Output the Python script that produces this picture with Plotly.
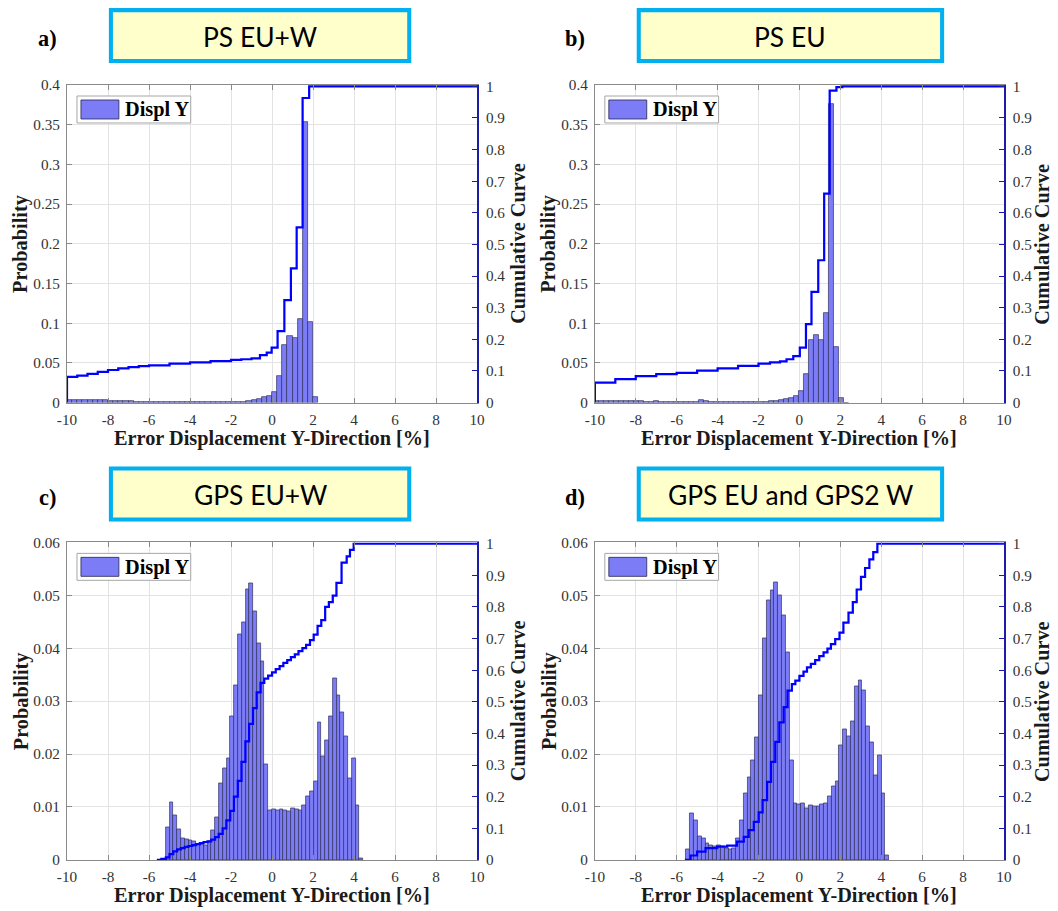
import numpy as np
import plotly.graph_objects as go

W, H = 1058, 911
# the page is shown with an 8 px body margin and then fitted back into W x H;
# layout positions below are given in final picture pixels and mapped through this
PAGE_PAD = 8
SX = (W + 2 * PAGE_PAD) / W
SY = (H + 2 * PAGE_PAD) / H

# ---------------- data ----------------
x_ticks = [-10, -8, -6, -4, -2, 0, 2, 4, 6, 8, 10]
cum_ticks = [0, 0.1, 0.2, 0.3, 0.4, 0.5, 0.6, 0.7, 0.8, 0.9, 1]
cum_tick_text = ["0", "0.1", "0.2", "0.3", "0.4", "0.5", "0.6", "0.7", "0.8", "0.9", "1"]
prob_ticks_ps = [0, 0.05, 0.1, 0.15, 0.2, 0.25, 0.3, 0.35, 0.4]
prob_tick_text_ps = ["0", "0.05", "0.1", "0.15", "0.2", "0.25", "0.3", "0.35", "0.4"]
prob_ticks_gps = [0, 0.01, 0.02, 0.03, 0.04, 0.05, 0.06]
prob_tick_text_gps = ["0", "0.01", "0.02", "0.03", "0.04", "0.05", "0.06"]

panel_titles = ["PS EU+W", "PS EU", "GPS EU+W", "GPS EU and GPS2 W"]
panel_letters = ["a)", "b)", "c)", "d)"]

# histogram bins: first edge and bin width per panel
bin_start = [-10.0, -10.044, -5.18, -5.53]
bin_width = [0.25, 0.244, 0.185, 0.187]

prob_ps_euw = [
    0.0030, 0.0029, 0.0028, 0.0028, 0.0027, 0.0027, 0.0026, 0.0026, 0.0025, 0.0025, 0.0024, 0.0024, 0.0022,
    0.0012, 0.0011, 0.0011, 0.0010, 0.0010, 0.0010, 0.0009, 0.0009, 0.0009, 0.0009, 0.0008, 0.0008, 0.0008,
    0.0008, 0.0008, 0.0008, 0.0008, 0.0009, 0.0009, 0.0010, 0.0011, 0.0013, 0.0016,
    0.0030, 0.0045, 0.0067, 0.0088, 0.0130, 0.0330, 0.0726, 0.0840, 0.0810, 0.1050, 0.3540, 0.1020, 0.0067]

prob_ps_eu = [
    0.0016, 0.0015, 0.0015, 0.0016, 0.0018, 0.0015, 0.0014, 0.0014, 0.0015, 0.0014, 0.0013, 0.0013, 0.0014,
    0.0013, 0.0012, 0.0012, 0.0013, 0.0012, 0.0012, 0.0011, 0.0012, 0.0030, 0.0014, 0.0012, 0.0011, 0.0011,
    0.0010, 0.0010, 0.0011, 0.0010, 0.0010, 0.0010, 0.0011, 0.0012, 0.0013, 0.0015,
    0.0020, 0.0030, 0.0040, 0.0059, 0.0088, 0.0151, 0.0360, 0.0788, 0.0855, 0.0792, 0.1124, 0.3765, 0.0696,
    0.0055, 0.0]

prob_gps_euw = [
    0.0061, 0.0108, 0.0084, 0.0057, 0.0041, 0.0038, 0.0037, 0.0035, 0.0030, 0.0030, 0.0028, 0.0035, 0.0055,
    0.0080, 0.0145, 0.0173, 0.0192, 0.0271, 0.0330, 0.0426, 0.0449, 0.0511, 0.0522, 0.0469, 0.0410, 0.0376,
    0.0180, 0.0094, 0.0096, 0.0094, 0.0096, 0.0094, 0.0091, 0.0098, 0.0096, 0.0093, 0.0104, 0.0120, 0.0129,
    0.0148, 0.0260, 0.0195, 0.0225, 0.0271, 0.0343, 0.0310, 0.0279, 0.0234, 0.0155, 0.0192, 0.0103, 0.0003]

prob_gps_eu_gps2w = [
    0.0019, 0.0088, 0.0074, 0.0045, 0.0041, 0.0031, 0.0028, 0.0026, 0.0027, 0.0025, 0.0022, 0.0019, 0.0022,
    0.0041, 0.0074, 0.0126, 0.0156, 0.0189, 0.0232, 0.0310, 0.0419, 0.0491, 0.0510, 0.0524, 0.0500, 0.0462,
    0.0392, 0.0189, 0.0107, 0.0105, 0.0107, 0.0098, 0.0104, 0.0101, 0.0101, 0.0105, 0.0107, 0.0120, 0.0139,
    0.0148, 0.0217, 0.0246, 0.0233, 0.0261, 0.0327, 0.0340, 0.0321, 0.0252, 0.0222, 0.0159, 0.0197, 0.0126,
    0.0008]

# cumulative curves (step positions and levels)
cum_ps_euw_x = [-10, -10, -9.5, -9, -8.5, -8, -7.5, -7, -6.5, -6, -5, -4, -3, -2, -1.5, -1,
                -0.59, -0.26, -0.02, 0.27, 0.6, 0.92, 1.2, 1.49, 1.81, 10]
cum_ps_euw_y = [0, 0.081, 0.085, 0.091, 0.097, 0.103, 0.108, 0.112, 0.115, 0.118, 0.123, 0.127, 0.131,
                0.135, 0.137, 0.140, 0.150, 0.158, 0.174, 0.226, 0.324, 0.424, 0.554, 0.963, 1.0, 1.0]

cum_ps_eu_x = [-10, -10, -9, -8, -7, -6, -5, -4, -3, -2, -1.44, -0.95, -0.63, -0.3, 0.02, 0.32,
               0.59, 0.92, 1.21, 1.48, 1.81, 2.1, 10]
cum_ps_eu_y = [0, 0.063, 0.074, 0.084, 0.090, 0.094, 0.101, 0.108, 0.116, 0.123, 0.127, 0.130, 0.137,
               0.147, 0.174, 0.248, 0.350, 0.450, 0.661, 0.986, 0.997, 1.0, 1.0]

cum_gps_euw_x = [-5.62, -5.4, -5.18, -5.0, -4.82, -4.63, -4.45, -4.26, -4.08, -3.89, -3.71, -3.52, -3.34,
                 -3.15, -2.97, -2.78, -2.6, -2.41, -2.23, -2.04, -1.86, -1.67, -1.49, -1.3, -1.12, -0.93,
                 -0.75, -0.56, -0.38, -0.19, 0.0, 0.18, 0.37, 0.55, 0.74, 0.92, 1.11, 1.29, 1.48, 1.66,
                 1.85, 2.03, 2.22, 2.4, 2.59, 2.77, 2.96, 3.14, 3.39, 3.64, 3.8, 3.98, 10]
cum_gps_euw_y = [0, 0.003, 0.008, 0.018, 0.027, 0.033, 0.037, 0.041, 0.044, 0.047, 0.050, 0.053, 0.056,
                 0.059, 0.064, 0.072, 0.082, 0.100, 0.125, 0.155, 0.200, 0.250, 0.310, 0.375, 0.430, 0.480,
                 0.530, 0.560, 0.573, 0.583, 0.593, 0.603, 0.613, 0.623, 0.632, 0.641, 0.650, 0.660, 0.670,
                 0.680, 0.695, 0.712, 0.740, 0.758, 0.800, 0.815, 0.836, 0.876, 0.940, 0.960, 0.980, 1.0, 1.0]

cum_gps_eu_gps2w_x = [-5.6, -5.32, -5.0, -4.59, -4.02, -3.53, -3.05, -2.72, -2.48, -2.23, -1.99, -1.8,
                      -1.58, -1.39, -1.18, -0.98, -0.77, -0.58, -0.37, -0.2, 0.0, 0.2, 0.37, 0.56, 0.77,
                      0.97, 1.18, 1.37, 1.54, 1.75, 1.96, 2.15, 2.4, 2.61, 2.8, 3.01, 3.21, 3.42, 3.61,
                      3.81, 10]
cum_gps_eu_gps2w_y = [0, 0.014, 0.026, 0.037, 0.042, 0.045, 0.058, 0.073, 0.094, 0.120, 0.150, 0.189,
                      0.247, 0.310, 0.373, 0.435, 0.483, 0.535, 0.556, 0.567, 0.582, 0.595, 0.609, 0.620,
                      0.632, 0.644, 0.656, 0.668, 0.682, 0.698, 0.719, 0.750, 0.782, 0.815, 0.855, 0.895,
                      0.923, 0.950, 0.973, 1.0, 1.0]

probs = [prob_ps_euw, prob_ps_eu, prob_gps_euw, prob_gps_eu_gps2w]
cums = [(cum_ps_euw_x, cum_ps_euw_y), (cum_ps_eu_x, cum_ps_eu_y),
        (cum_gps_euw_x, cum_gps_euw_y), (cum_gps_eu_gps2w_x, cum_gps_eu_gps2w_y)]
prob_axes = [(0.4, prob_ticks_ps, prob_tick_text_ps), (0.4, prob_ticks_ps, prob_tick_text_ps),
             (0.06, prob_ticks_gps, prob_tick_text_gps), (0.06, prob_ticks_gps, prob_tick_text_gps)]

# ---------------- layout geometry (picture pixels) ----------------
plot_boxes = [(65, 476, 84, 402), (594, 1004, 84, 402), (65, 476, 542, 860), (594, 1004, 542, 860)]
title_boxes = [(107, 410, 7, 62), (636, 944, 7, 62), (107, 410, 466, 521), (636, 944, 466, 521)]
letter_pos = [(45, 37), (574, 37), (45, 497), (574, 497)]
right_label_dx = [41, 38, 41, 38]

SERIF = "Liberation Serif"
AX_COL = "#8a8a8a"
RIGHT_COL = "#1c1ca8"
GRID_COL = "#e3e3e3"


def fs(size):
    # font / stroke size compensated for the page fit
    return size * SX


TICK_FONT = dict(family=SERIF, size=fs(15), color="#333333")
LABEL_FONT = dict(family=SERIF, size=fs(20), color="#1a1a1a")
BAR_FILL = "rgb(124,124,247)"
BAR_EDGE = "rgba(45,45,90,0.85)"
LINE_COL = "#0000ff"


def px(x):
    return (x * SX - PAGE_PAD) / W


def py(y):
    return 1 - (y * SY - PAGE_PAD) / H


fig = go.Figure()
shapes = []
annotations = []
layout_axes = {}

for i in range(4):
    n = i + 1
    sfx = "" if n == 1 else str(n)
    rn = n + 4
    x0, x1, y0, y1 = plot_boxes[i]
    vals = probs[i]
    centers = [bin_start[i] + (k + 0.5) * bin_width[i] for k in range(len(vals))]

    fig.add_trace(go.Bar(
        x=centers, y=vals, width=bin_width[i],
        marker=dict(color=BAR_FILL, line=dict(color=BAR_EDGE, width=0.8)),
        xaxis="x" + sfx, yaxis="y" + sfx, showlegend=False, name="Displ Y"))

    cx, cy = cums[i]
    fig.add_trace(go.Scatter(
        x=cx, y=cy, mode="lines", line=dict(color=LINE_COL, width=fs(2.2), shape="hv"),
        xaxis="x" + sfx, yaxis="y" + str(rn), showlegend=False, name="Cumulative"))

    ymax, yt, ytt = prob_axes[i]
    layout_axes["xaxis" + sfx] = dict(
        domain=[px(x0), px(x1)], range=[-10, 10], anchor="y" + sfx,
        tickvals=x_ticks, ticktext=[str(v) for v in x_ticks],
        ticks="inside", ticklen=5, tickcolor=AX_COL, showline=True, linecolor=AX_COL, linewidth=1,
        mirror="ticks", showgrid=True, gridcolor=GRID_COL, zeroline=False,
        tickfont=TICK_FONT, ticklabelstandoff=3, fixedrange=True)
    layout_axes["yaxis" + sfx] = dict(
        domain=[py(y1), py(y0)], range=[0, ymax], anchor="x" + sfx,
        tickvals=yt, ticktext=ytt,
        ticks="inside", ticklen=5, tickcolor=AX_COL, showline=True, linecolor=AX_COL, linewidth=1,
        showgrid=True, gridcolor=GRID_COL, zeroline=False,
        tickfont=TICK_FONT, ticklabelstandoff=3, fixedrange=True)
    layout_axes["yaxis" + str(rn)] = dict(
        overlaying="y" + sfx, side="right", anchor="x" + sfx, range=[0, 1.004],
        tickvals=cum_ticks, ticktext=cum_tick_text,
        ticks="inside", ticklen=5, tickcolor=RIGHT_COL, showline=True, linecolor=RIGHT_COL, linewidth=1.5,
        showgrid=False, zeroline=False, tickfont=TICK_FONT, ticklabelstandoff=4, fixedrange=True)

    # axis titles
    annotations.append(dict(
        x=px((x0 + x1) / 2), y=py(y1 + 36), xref="paper", yref="paper", showarrow=False,
        text="<b>Error Displacement Y-Direction [%]</b>", font=LABEL_FONT,
        xanchor="center", yanchor="middle"))
    annotations.append(dict(
        x=px(x0 - 46), y=py((y0 + y1) / 2), xref="paper", yref="paper", showarrow=False,
        text="<b>Probability</b>", textangle=-90, font=LABEL_FONT,
        xanchor="center", yanchor="middle"))
    annotations.append(dict(
        x=px(x1 + right_label_dx[i]), y=py((y0 + y1) / 2), xref="paper", yref="paper", showarrow=False,
        text="<b>Cumulative Curve</b>", textangle=-90, font=LABEL_FONT,
        xanchor="center", yanchor="middle"))

    # legend box
    lx0, ly0 = x0 + 10, y0 + 11
    shapes.append(dict(type="rect", xref="paper", yref="paper",
                       x0=px(lx0), x1=px(lx0 + 114), y0=py(ly0 + 27), y1=py(ly0),
                       line=dict(color="#a6a6a6", width=1), fillcolor="white", layer="above"))
    shapes.append(dict(type="rect", xref="paper", yref="paper",
                       x0=px(lx0 + 4), x1=px(lx0 + 42), y0=py(ly0 + 23), y1=py(ly0 + 4),
                       line=dict(color=BAR_EDGE, width=1), fillcolor=BAR_FILL, layer="above"))
    annotations.append(dict(
        x=px(lx0 + 46), y=py(ly0 + 14), xref="paper", yref="paper", showarrow=False,
        text="<b>Displ Y</b>", font=dict(family=SERIF, size=fs(20), color="black"),
        xanchor="left", yanchor="middle"))

    # panel title box
    tx0, tx1, ty0, ty1 = title_boxes[i]
    shapes.append(dict(type="rect", xref="paper", yref="paper",
                       x0=px(tx0 + 2), x1=px(tx1 - 2), y0=py(ty1 - 2), y1=py(ty0 + 2),
                       line=dict(color="#00b0f0", width=fs(4)), fillcolor="#ffffcc", layer="above"))
    annotations.append(dict(
        x=px((tx0 + tx1) / 2), y=py((ty0 + ty1) / 2 + 1), xref="paper", yref="paper", showarrow=False,
        text=panel_titles[i], font=dict(family="Lato", size=fs(26), color="black"),
        xanchor="center", yanchor="middle"))

    lxp, lyp = letter_pos[i]
    annotations.append(dict(
        x=px(lxp), y=py(lyp), xref="paper", yref="paper", showarrow=False,
        text="<b>" + panel_letters[i] + "</b>", font=dict(family=SERIF, size=fs(22), color="black"),
        xanchor="center", yanchor="middle"))

fig.update_layout(
    width=W, height=H, margin=dict(l=0, r=0, t=0, b=0),
    paper_bgcolor="white", plot_bgcolor="white",
    showlegend=False, bargap=0,
    shapes=shapes, annotations=annotations,
    **layout_axes)

fig.write_html("out.html")
